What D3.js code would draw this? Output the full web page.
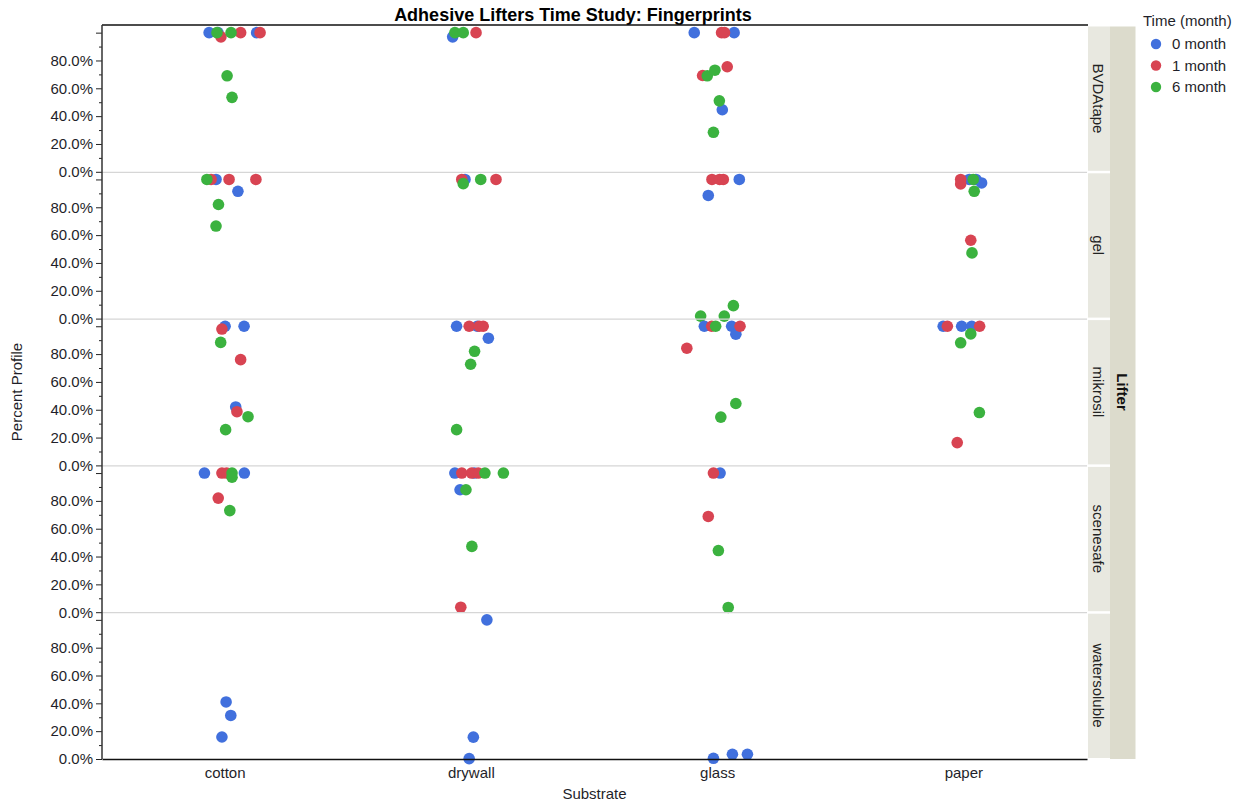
<!DOCTYPE html>
<html><head><meta charset="utf-8">
<script src="https://cdn.jsdelivr.net/npm/d3@7"></script>
<style>
body{margin:0;background:#fff;}
text{font-family:"Liberation Sans",Arial,sans-serif;}
</style></head>
<body><svg id="chart" width="1243" height="806"></svg>
<script>
// ---- data ----
const lifters = ["BVDAtape","gel","mikrosil","scenesafe","watersoluble"];
const substrates = ["cotton","drywall","glass","paper"];
const times = ["0 month","1 month","6 month"];
const majorTicks = [0,0.2,0.4,0.6,0.8,1.0];
const minorTicks = [0.1,0.3,0.5,0.7,0.9];
// each point: [substrate, time, percent value, jitter (% of category band)]
const ptsBVDAtape = [
 ["cotton","0 month",100,-6.5],["cotton","0 month",100,-2.9],["cotton","6 month",100,-3.3],["cotton","1 month",97,-1.7],
 ["cotton","6 month",100,2.4],["cotton","1 month",100,6.3],["cotton","0 month",100,12.8],["cotton","1 month",100,14.2],
 ["cotton","6 month",69,0.8],["cotton","6 month",53.5,2.8],
 ["drywall","0 month",97,-7.6],["drywall","6 month",100,-6.7],["drywall","6 month",100,-3.3],["drywall","1 month",100,1.9],
 ["glass","0 month",100,-9.5],["glass","1 month",100,1.6],["glass","1 month",100,2.8],["glass","0 month",100,6.7],
 ["glass","1 month",75.5,3.9],["glass","1 month",69.2,-6.1],["glass","6 month",69,-4.2],["glass","6 month",73,-1.1],
 ["glass","6 month",51,0.7],["glass","0 month",44.6,1.9],["glass","6 month",28.4,-1.7]
];
const ptsGel = [
 ["cotton","6 month",100,-7.4],["cotton","1 month",100,-5.7],["cotton","0 month",100,-3.7],["cotton","1 month",100,1.6],
 ["cotton","1 month",100,12.5],["cotton","0 month",91.5,5.2],["cotton","6 month",82,-2.7],["cotton","6 month",66.5,-3.7],
 ["drywall","1 month",100,-3.9],["drywall","0 month",100,-2.6],["drywall","6 month",97,-3.3],["drywall","6 month",100,3.8],["drywall","1 month",100,10],
 ["glass","1 month",100,-2.3],["glass","1 month",100,0.8],["glass","1 month",100,2.3],["glass","0 month",100,8.8],
 ["glass","0 month",88.5,-3.8],["glass","6 month",1.8,-6.9],["glass","6 month",1.8,2.7],["glass","6 month",9.3,6.4],
 ["paper","1 month",100,-1.3],["paper","1 month",96.8,-1.3],["paper","0 month",100,2.2],["paper","0 month",100,4.9],
 ["paper","6 month",100,3.8],["paper","0 month",97.5,7.2],["paper","6 month",91.5,4.2],["paper","1 month",56.3,2.8],["paper","6 month",47.2,3.3]
];
const ptsMikrosil = [
 ["cotton","0 month",100,0],["cotton","0 month",100,7.7],["cotton","1 month",98,-1.3],["cotton","6 month",88.4,-1.8],
 ["cotton","1 month",76,6.3],["cotton","0 month",42,4.3],["cotton","1 month",38.6,4.8],["cotton","6 month",35,9.3],["cotton","6 month",25.7,0.2],
 ["drywall","0 month",100,-6],["drywall","1 month",100,-0.9],["drywall","0 month",100,2.4],["drywall","1 month",100,3.2],["drywall","1 month",100,4.8],
 ["drywall","0 month",91.4,6.9],["drywall","6 month",82,1.3],["drywall","6 month",72.7,-0.3],["drywall","6 month",25.7,-6],
 ["glass","0 month",100,-5.4],["glass","1 month",100,-2.4],["glass","6 month",100,-0.8],["glass","0 month",100,5.7],["glass","1 month",100,9.1],
 ["glass","0 month",94.3,7.4],["glass","1 month",84.2,-12.5],["glass","6 month",44.5,7.4],["glass","6 month",34.7,1.3],
 ["paper","0 month",100,-8.4],["paper","1 month",100,-6.7],["paper","0 month",100,-0.9],["paper","0 month",100,3.2],["paper","1 month",100,6.4],
 ["paper","6 month",94.5,2.8],["paper","6 month",88.1,-1.3],["paper","6 month",38,6.3],["paper","1 month",16.4,-2.7]
];
const ptsScenesafe = [
 ["cotton","0 month",100,-8.4],["cotton","1 month",100,-1.3],["cotton","1 month",100,0.6],["cotton","6 month",100,2.8],
 ["cotton","6 month",97,2.8],["cotton","0 month",100,7.8],["cotton","1 month",82,-2.8],["cotton","6 month",73,1.9],
 ["drywall","0 month",100,-6.7],["drywall","1 month",100,-3.9],["drywall","1 month",100,0.1],["drywall","0 month",100,1.2],
 ["drywall","1 month",100,2.8],["drywall","6 month",100,5.5],["drywall","6 month",100,13],["drywall","0 month",88,-4.6],
 ["drywall","6 month",88,-2.2],["drywall","6 month",47.3,0.2],["drywall","1 month",3.6,-4.3],
 ["glass","1 month",100,-1.7],["glass","0 month",100,1],["glass","1 month",68.8,-3.8],["glass","6 month",44.3,0.3],["glass","6 month",3.4,4.3]
];
const ptsWatersoluble = [
 ["cotton","0 month",41,0.4],["cotton","0 month",31.3,2.3],["cotton","0 month",15.8,-1.3],
 ["drywall","0 month",100,6.3],["drywall","0 month",15.7,0.8],["drywall","0 month",0.3,-0.9],
 ["glass","0 month",0.5,-1.7],["glass","0 month",3.4,6],["glass","0 month",3.4,12.1]
];
const panelData = [ptsBVDAtape, ptsGel, ptsMikrosil, ptsScenesafe, ptsWatersoluble];

// ---- chart ----
const svg = d3.select("#chart");
const plot = {left:102, right:1087, top:25, bottom:759};
const panelH = (plot.bottom - plot.top) / lifters.length;
const color = d3.scaleOrdinal().domain(times).range(["#4170DD","#D84452","#3BB23F"]);
const x = d3.scaleBand().domain(substrates).range([plot.left, plot.right]);
const y = d3.scaleLinear().domain([0, 1.055]).range([panelH, 0]);
const jit = j => j / 100 * x.bandwidth();
const FS = 15;

// title
svg.append("text").attr("x", 573).attr("y", 21).attr("text-anchor","middle")
  .attr("font-size", 18).attr("font-weight","bold").attr("fill","#000")
  .text("Adhesive Lifters Time Study: Fingerprints");

lifters.forEach((lf, i) => {
  const g = svg.append("g").attr("transform", `translate(0,${plot.top + i*panelH})`);
  if (i > 0) {
    g.append("line").attr("x1", plot.left).attr("x2", plot.right).attr("y1", 0.5).attr("y2", 0.5)
      .attr("stroke", "#d6d6d6").attr("stroke-width", 1.2);
  }
  const ax = g.append("g").attr("transform", `translate(${plot.left},0)`)
    .call(d3.axisLeft(y).tickValues(majorTicks).tickSize(6).tickPadding(3)
      .tickFormat(d => d < 1 ? d3.format(".1%")(d) : ""));
  ax.select(".domain").remove();
  ax.selectAll("text").attr("font-size", FS).attr("fill","#1f1f2a").attr("font-family",'"Liberation Sans",Arial,sans-serif');
  ax.selectAll("line").attr("stroke","#222");
  const mx = g.append("g").attr("transform", `translate(${plot.left},0)`)
    .call(d3.axisLeft(y).tickValues(minorTicks).tickSize(3).tickFormat(""));
  mx.select(".domain").remove();
  mx.selectAll("line").attr("stroke","#222");

  const data = panelData[i].slice().sort((a,b) => times.indexOf(a[1]) - times.indexOf(b[1]));
  g.selectAll("circle.pt").data(data).enter().append("circle").attr("class","pt")
    .attr("cx", d => x(d[0]) + x.bandwidth()/2 + jit(d[3]))
    .attr("cy", d => y(d[2]/100))
    .attr("r", 5.8)
    .attr("fill", d => color(d[1]));

  // inner strip
  g.append("rect").attr("x", 1088).attr("y", i===0 ? 1.5 : 1.5).attr("width", 22).attr("height", panelH - 2.5)
    .attr("fill", "#e8e8e0");
  g.append("text").attr("transform", `translate(1093,${panelH/2}) rotate(90)`)
    .attr("text-anchor","middle").attr("font-size", FS).attr("fill","#222").text(lf);
});

// outer strip
svg.append("rect").attr("x", 1110).attr("y", plot.top + 1.5).attr("width", 25.5)
  .attr("height", plot.bottom - plot.top - 1.5).attr("fill", "#dcdbcc");
svg.append("text").attr("transform", `translate(1117,${(plot.top+plot.bottom)/2}) rotate(90)`)
  .attr("text-anchor","middle").attr("font-size", FS).attr("font-weight","bold").attr("fill","#111").text("Lifter");

// frame lines
svg.append("line").attr("x1", plot.left).attr("x2", plot.right + 1).attr("y1", plot.top).attr("y2", plot.top)
  .attr("stroke","#111").attr("stroke-width",1.5);
svg.append("line").attr("x1", plot.left).attr("x2", plot.left).attr("y1", plot.top).attr("y2", plot.bottom)
  .attr("stroke","#333").attr("stroke-width",1.5);

// x axis
const xa = svg.append("g").attr("transform", `translate(0,${plot.bottom})`)
  .call(d3.axisBottom(x).tickSize(0).tickPadding(8));
xa.select(".domain").attr("stroke","#111").attr("stroke-width",1.5);
xa.selectAll("text").attr("font-size", FS).attr("fill","#1f1f2a").attr("font-family",'"Liberation Sans",Arial,sans-serif');

svg.append("text").attr("x", (plot.left+plot.right)/2).attr("y", 799).attr("text-anchor","middle")
  .attr("font-size", FS).attr("fill","#1f1f2a").text("Substrate");
svg.append("text").attr("transform", `translate(22,${(plot.top+plot.bottom)/2}) rotate(-90)`)
  .attr("text-anchor","middle").attr("font-size", FS).attr("fill","#1f1f2a").text("Percent Profile");

// legend
svg.append("text").attr("x", 1143).attr("y", 26).attr("font-size", FS).attr("fill","#1f1f2a").text("Time (month)");
times.forEach((t, k) => {
  const ly = 44 + k*21.5;
  svg.append("circle").attr("cx", 1156).attr("cy", ly).attr("r", 5.2).attr("fill", color(t));
  svg.append("text").attr("x", 1172).attr("y", ly + 5).attr("font-size", FS).attr("fill","#1f1f2a").text(t);
});
</script></body></html>
